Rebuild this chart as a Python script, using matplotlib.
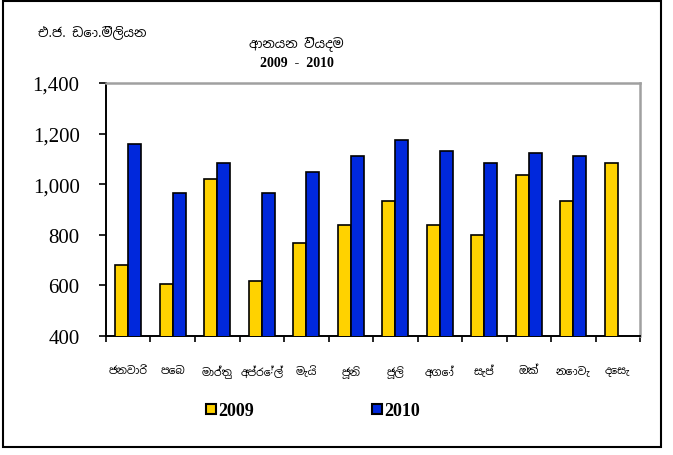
import matplotlib
matplotlib.use("Agg")
import matplotlib.pyplot as plt
from matplotlib.lines import Line2D
from matplotlib.patches import Rectangle
import numpy as np

months = ["ජනවාරි", "පෙබ", "මාර්තු", "අප්රේල්", "මැයි", "ජූනි",
          "ජූලි", "අගෝ", "සැප්", "ඔක්", "නොවැ", "දෙසැ"]
imp_2009 = [682, 607, 1021, 616, 766, 838, 933, 838, 799, 1038, 933, 1084]
imp_2010 = [1158, 966, 1085, 966, 1046, 1110, 1173, 1132, 1085, 1125, 1110, None]

yellow = "#FFD200"
blue = "#0028DC"
sinh = ["Noto Sans Sinhala", "Iskoola Pota", "DejaVu Sans"]

fig = plt.figure(figsize=(6.73, 4.56), dpi=100)
ax = fig.add_axes([0.1575, 0.261, 0.7935, 0.555])

x = np.arange(len(months))
w = 0.29
ax.bar(x - w / 2, imp_2009, w, color=yellow, edgecolor="black", linewidth=1.2, zorder=3)
x10 = [i for i, v in enumerate(imp_2010) if v is not None]
ax.bar(np.array(x10) + w / 2, [imp_2010[i] for i in x10], w, color=blue,
       edgecolor="black", linewidth=1.2, zorder=3)

ax.set_xlim(-0.5, len(months) - 0.5)
ax.set_ylim(400, 1400)
ax.set_yticks(range(400, 1401, 200))
ax.set_yticklabels(["{:,}".format(v) for v in range(400, 1401, 200)],
                   family="Liberation Serif", fontsize=15)
ax.set_xticks(np.arange(-0.5, len(months), 1))
ax.set_xticklabels([])
ax.set_xticks(x, minor=True)
ax.set_xticklabels(months, minor=True, family=sinh, fontsize=7.8)
ax.tick_params(axis="x", which="minor", length=0, pad=21)
ax.tick_params(axis="x", which="major", length=4, width=1.2, direction="out")
ax.tick_params(axis="y", length=5, width=1.2, direction="out", pad=14)

for s in ["left", "bottom"]:
    ax.spines[s].set_color("black")
    ax.spines[s].set_linewidth(1.4)
for s in ["top", "right"]:
    ax.spines[s].set_color("#a0a0a0")
    ax.spines[s].set_linewidth(1.8)

fig.text(0.057, 0.93, "එ.ජ. ඩො.මිලියන", family=sinh, fontsize=9.3, va="center")
fig.text(0.441, 0.905, "ආනයන වියදම", family=sinh, fontsize=9.3,
         fontweight="bold", ha="center", va="center")
fig.text(0.441, 0.86, "2009  -  2010", family="Liberation Serif", fontsize=10,
         fontweight="bold", ha="center", va="center")

handles = [Line2D([], [], marker="s", linestyle="none", markersize=7,
                  markerfacecolor=c, markeredgecolor="black", markeredgewidth=1.5)
           for c in (yellow, blue)]
fig.legend(handles, ["2009", "2010"], loc="center", bbox_to_anchor=(0.465, 0.097),
           ncol=2, frameon=False, handlelength=0.6, handletextpad=0.1,
           columnspacing=6.5, prop={"family": "Liberation Serif", "weight": "bold", "size": 13})

fig.patches.append(Rectangle((0.005, 0.018), 0.977, 0.978, transform=fig.transFigure,
                             fill=False, edgecolor="black", linewidth=1.5))

fig.savefig("out.png", dpi=100)
